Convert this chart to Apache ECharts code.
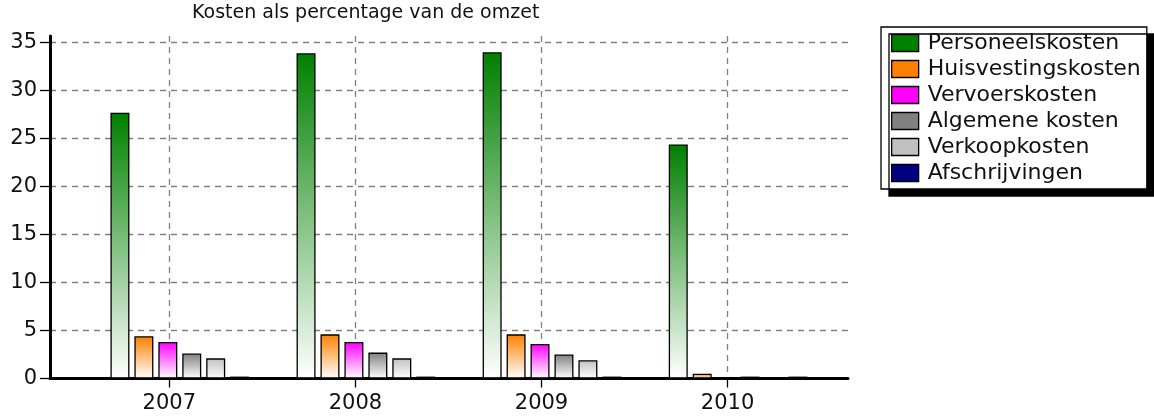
<!DOCTYPE html>
<html>
<head>
<meta charset="utf-8">
<script src="https://cdn.jsdelivr.net/npm/echarts@6/dist/echarts.min.js"></script>
<style>
html, body { margin: 0; padding: 0; background: #fff; }
#chart { width: 1154px; height: 416px; }
</style>
</head>
<body>
<div id="chart"></div>
<script>
const years = ['2007', '2008', '2009', '2010']
const yearTicks = [2007, 2008, 2009, 2010]
const valueTicks = [0, 5, 10, 15, 20, 25, 30, 35]

const seriesNames = ['Personeelskosten', 'Huisvestingskosten', 'Vervoerskosten', 'Algemene kosten', 'Verkoopkosten', 'Afschrijvingen']
const seriesColors = ['#008000', '#ff8000', '#ff00ff', '#808080', '#c0c0c0', '#000080']

const personeelskosten = [27.7, 33.9, 34.0, 24.4]
const huisvestingskosten = [4.4, 4.6, 4.6, 0.5]
const vervoerskosten = [3.8, 3.8, 3.6, null]
const algemeneKosten = [2.6, 2.7, 2.5, 0.2]
const verkoopkosten = [2.1, 2.1, 1.9, null]
const afschrijvingen = [0.2, 0.2, 0.2, 0.2]
const seriesValues = [personeelskosten, huisvestingskosten, vervoerskosten, algemeneKosten, verkoopkosten, afschrijvingen]

const font = 'DejaVu Sans'
const dashed = { color: '#808080', width: 1.3, type: [6, 5] }
const plotTop = 36
const plotBottom = 37.5

const chart = echarts.init(document.getElementById('chart'))

function fade(color) {
  return new echarts.graphic.LinearGradient(0, 0, 0, 1, [
    { offset: 0, color },
    { offset: 1, color: '#ffffff' },
  ])
}

chart.setOption({
  animation: false,
  title: {
    text: 'Kosten als percentage van de omzet',
    left: 192,
    top: 4,
    padding: 0,
    textStyle: { fontFamily: font, fontSize: 19, fontWeight: 'normal', color: '#111' },
  },
  legend: {
    orient: 'vertical',
    left: 881,
    top: 27,
    padding: [5, 6, 5, 10],
    itemWidth: 27,
    itemHeight: 17,
    itemGap: 4,
    backgroundColor: '#fff',
    borderColor: '#000',
    borderWidth: 1.3,
    borderRadius: 0,
    shadowColor: '#000',
    shadowBlur: 0,
    shadowOffsetX: 8,
    shadowOffsetY: 7,
    icon: 'rect',
    selectedMode: false,
    textStyle: { fontFamily: font, fontSize: 22, color: '#111', padding: [0, 0, 0, 4] },
    data: seriesNames.map((name, i) => ({
      name,
      itemStyle: { color: seriesColors[i], borderColor: '#000', borderWidth: 1.3 },
    })),
  },
  grid: [
    { left: 50, width: 798, top: plotTop, bottom: plotBottom },
    { left: 86.75, width: 744.4, top: plotTop, bottom: plotBottom },
  ],
  xAxis: [
    {
      type: 'value',
      gridIndex: 0,
      min: 2006.359,
      max: 2010.647,
      axisLine: { show: true, lineStyle: { color: '#000', width: 3 } },
      axisTick: { show: true, customValues: yearTicks, length: 9, lineStyle: { color: '#000', width: 1.3 } },
      axisLabel: { customValues: yearTicks, formatter: (v) => String(v), margin: 15, fontFamily: font, fontSize: 21, color: '#111' },
      splitLine: { show: true, lineStyle: dashed },
    },
    {
      type: 'category',
      gridIndex: 1,
      data: years,
      show: false,
    },
  ],
  yAxis: [
    {
      type: 'value',
      gridIndex: 0,
      min: 0,
      max: 35.7,
      axisLine: { show: true, lineStyle: { color: '#000', width: 3 } },
      axisTick: { show: true, customValues: valueTicks, length: 10, lineStyle: { color: '#000', width: 1.3 } },
      axisLabel: { customValues: valueTicks, formatter: (v) => String(v), margin: 13, fontFamily: font, fontSize: 21, color: '#111' },
      splitLine: { show: true, lineStyle: dashed },
    },
    {
      type: 'value',
      gridIndex: 1,
      min: 0,
      max: 35.7,
      show: false,
      splitLine: { show: false },
    },
  ],
  series: seriesNames.map((name, i) => ({
    name,
    type: 'bar',
    xAxisIndex: 1,
    yAxisIndex: 1,
    barWidth: 19,
    barGap: '26%',
    data: seriesValues[i],
    itemStyle: { color: fade(seriesColors[i]), borderColor: '#000', borderWidth: 1.3 },
  })),
})
</script>
</body>
</html>
